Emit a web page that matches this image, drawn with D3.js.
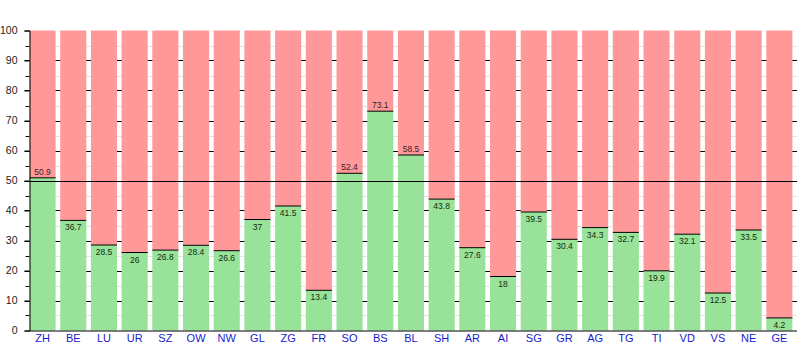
<!DOCTYPE html>
<html>
<head>
<meta charset="utf-8">
<script src="https://cdn.jsdelivr.net/npm/d3@7"></script>
<style>
  html, body { margin: 0; padding: 0; background: #fff; }
  svg { display: block; }
  text { font-family: "Liberation Sans", Arial, sans-serif; }
</style>
</head>
<body>
<svg id="chart" width="801" height="350"></svg>
<script>
// Cantons and the "yes" share (percent) in each
const cantons = ["ZH","BE","LU","UR","SZ","OW","NW","GL","ZG","FR","SO","BS","BL",
                 "SH","AR","AI","SG","GR","AG","TG","TI","VD","VS","NE","GE"];
const yesShare = [50.9, 36.7, 28.5, 26, 26.8, 28.4, 26.6, 37, 41.5, 13.4, 52.4, 73.1, 58.5,
                  43.8, 27.6, 18, 39.5, 30.4, 34.3, 32.7, 19.9, 32.1, 12.5, 33.5, 4.2];
const majorTicks = [0, 10, 20, 30, 40, 50, 60, 70, 80, 90, 100];
const minorTicks = [5, 15, 25, 35, 45, 55, 65, 75, 85, 95];
const majority = 50;

const svg = d3.select("#chart");
const plotLeft = 29.5, plotRight = 797, plotTop = 30.5, plotBottom = 330.5;

const x = d3.scaleBand()
  .domain(cantons)
  .range([plotLeft, plotRight])
  .paddingInner(0.15)
  .paddingOuter(0.075)
  .align(0);

const y = d3.scaleLinear().domain([0, 100]).range([plotBottom, plotTop]);
const py = v => Math.round(y(v)) + 0.5;

// minor grid (light) with short ticks on the axis
const minor = svg.append("g");
minor.selectAll("line.grid").data(minorTicks).join("line")
  .attr("class", "grid")
  .attr("x1", plotLeft).attr("x2", plotRight)
  .attr("y1", py).attr("y2", py)
  .attr("stroke", "#e4e4e4");
minor.selectAll("line.tick").data(minorTicks).join("line")
  .attr("class", "tick")
  .attr("x1", plotLeft - 4).attr("x2", plotLeft)
  .attr("y1", py).attr("y2", py)
  .attr("stroke", "#000");

// major grid lines
svg.append("g").selectAll("line").data(majorTicks.filter(d => d > 0 && d < 100)).join("line")
  .attr("x1", plotLeft - 5).attr("x2", plotRight)
  .attr("y1", py).attr("y2", py)
  .attr("stroke", "#000");

// bars: "no" part on top, "yes" part from zero
const bars = svg.append("g").selectAll("g").data(cantons).join("g");
bars.append("rect")
  .attr("x", d => x(d)).attr("width", x.bandwidth())
  .attr("y", y(100)).attr("height", (d, i) => y(yesShare[i]) - y(100))
  .attr("fill", "#ff9999");
bars.append("rect")
  .attr("x", d => x(d)).attr("width", x.bandwidth())
  .attr("y", (d, i) => y(yesShare[i])).attr("height", (d, i) => y(0) - y(yesShare[i]))
  .attr("fill", "#99e299");
bars.append("line")
  .attr("x1", d => x(d)).attr("x2", d => x(d) + x.bandwidth())
  .attr("y1", (d, i) => y(yesShare[i])).attr("y2", (d, i) => y(yesShare[i]))
  .attr("stroke", "#000").attr("stroke-width", 1);
bars.append("text")
  .attr("x", d => x(d) + x.bandwidth() / 2)
  .attr("y", (d, i) => yesShare[i] > majority ? y(yesShare[i]) - 3 : y(yesShare[i]) + 10)
  .attr("text-anchor", "middle")
  .attr("font-size", 8.5)
  .attr("fill", (d, i) => yesShare[i] > majority ? "#3a1a1a" : "#0f2f0f")
  .text((d, i) => yesShare[i]);

// majority line drawn over the bars
svg.append("line")
  .attr("x1", plotLeft - 5).attr("x2", plotRight)
  .attr("y1", py(majority)).attr("y2", py(majority))
  .attr("stroke", "#000");

// y axis
const yAxis = svg.append("g").attr("transform", `translate(${plotLeft},0)`)
  .call(d3.axisLeft(y).tickValues(majorTicks).tickSize(5).tickPadding(7));
yAxis.select(".domain").attr("stroke", "#000");
yAxis.selectAll(".tick line").attr("stroke", "#000");
yAxis.selectAll("text").attr("font-size", 10.5).attr("fill", "#222")
  .attr("font-family", "'Liberation Sans', Arial, sans-serif");

// x axis
const xAxis = svg.append("g").attr("transform", `translate(0,${plotBottom})`)
  .call(d3.axisBottom(x).tickSize(0).tickPadding(4));
xAxis.select(".domain").attr("stroke", "#000").attr("d", `M${plotLeft},0.5H${plotRight}`);
xAxis.selectAll("text").attr("font-size", 11).attr("fill", "#1a1acc")
  .attr("font-family", "'Liberation Sans', Arial, sans-serif");
</script>
</body>
</html>
